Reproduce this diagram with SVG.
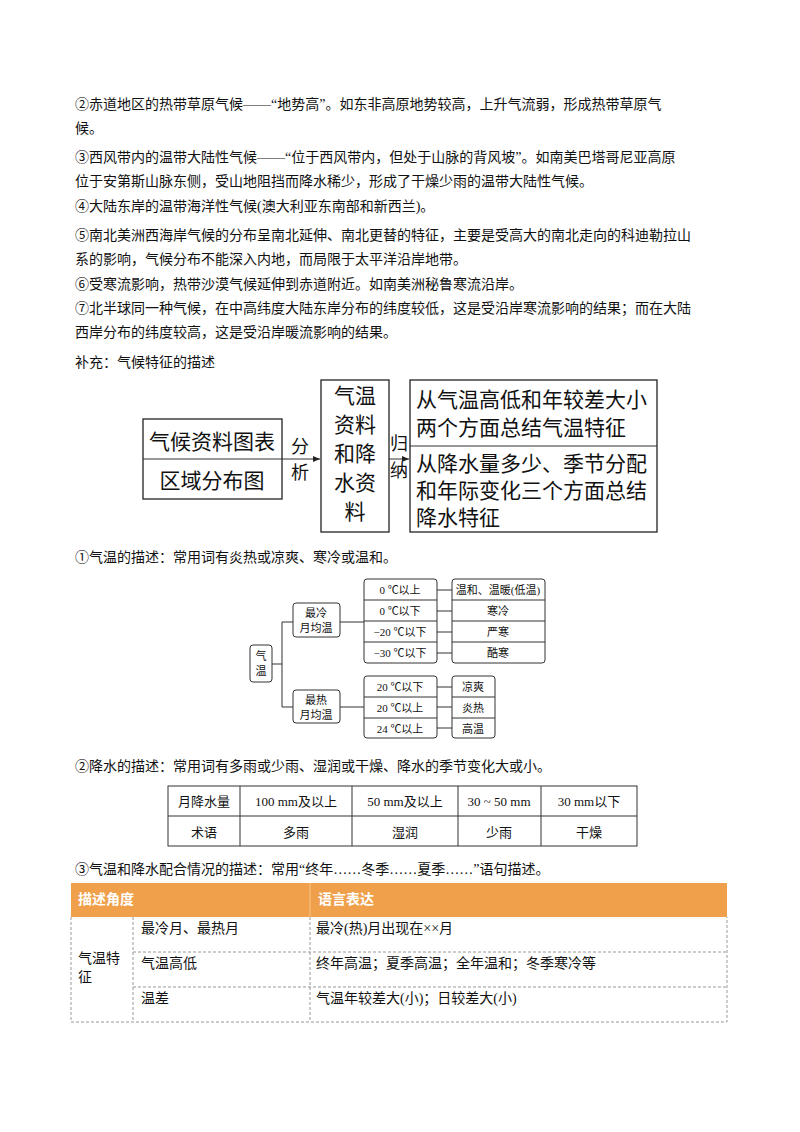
<svg xmlns="http://www.w3.org/2000/svg" width="800" height="1132" viewBox="0 0 800 1132">
<defs>
<style>
text{font-family:"Liberation Serif","Noto Sans CJK SC",serif;fill:#111}
.p{font-size:14px}
.b{font-size:21px}
.l{font-size:18px;text-anchor:middle}
.s{font-size:11px}
.t{font-size:13px;text-anchor:middle}
.bx{fill:#fff;stroke:#222;stroke-width:1.3}
.rb{fill:#fff;stroke:#333;stroke-width:1}
.ln{stroke:#333;stroke-width:1;fill:none}
.d{stroke:#999;stroke-width:1;stroke-dasharray:3 2;fill:none}
.h{font-family:"Noto Sans CJK SC",sans-serif;font-size:14px;fill:#fff;font-weight:bold}
</style>
<marker id="ar" markerWidth="8" markerHeight="8" refX="7" refY="4" orient="auto"><path d="M0,1 L7,4 L0,7z" fill="#222"/></marker>
</defs>
<rect width="800" height="1132" fill="#fff"/>
<g class="p">
<text x="75" y="109">②赤道地区的热带草原气候——“地势高”。如东非高原地势较高，上升气流弱，形成热带草原气</text>
<text x="75" y="133">候。</text>
<text x="75" y="162">③西风带内的温带大陆性气候——“位于西风带内，但处于山脉的背风坡”。如南美巴塔哥尼亚高原</text>
<text x="75" y="186">位于安第斯山脉东侧，受山地阻挡而降水稀少，形成了干燥少雨的温带大陆性气候。</text>
<text x="75" y="211">④大陆东岸的温带海洋性气候(澳大利亚东南部和新西兰)。</text>
<text x="75" y="240">⑤南北美洲西海岸气候的分布呈南北延伸、南北更替的特征，主要是受高大的南北走向的科迪勒拉山</text>
<text x="75" y="264">系的影响，气候分布不能深入内地，而局限于太平洋沿岸地带。</text>
<text x="75" y="289">⑥受寒流影响，热带沙漠气候延伸到赤道附近。如南美洲秘鲁寒流沿岸。</text>
<text x="75" y="313">⑦北半球同一种气候，在中高纬度大陆东岸分布的纬度较低，这是受沿岸寒流影响的结果；而在大陆</text>
<text x="75" y="337">西岸分布的纬度较高，这是受沿岸暖流影响的结果。</text>
<text x="75" y="367">补充：气候特征的描述</text>
<text x="75" y="562">①气温的描述：常用词有炎热或凉爽、寒冷或温和。</text>
<text x="75" y="771">②降水的描述：常用词有多雨或少雨、湿润或干燥、降水的季节变化大或小。</text>
<text x="75" y="874">③气温和降水配合情况的描述：常用“终年……冬季……夏季……”语句描述。</text>
</g>
<g id="connectors">
<line class="ln" x1="282" y1="459" x2="320" y2="459" marker-end="url(#ar)" stroke="#222"/>
<line class="ln" x1="389" y1="459" x2="409" y2="459" marker-end="url(#ar)" stroke="#222"/>
<path class="ln" d="M272,664 H282 M282,622 V707 M282,622 H293 M282,707 H293 M340,622 H364 M340,707 H364 M437,590 H452 M437,611 H452 M437,632 H452 M437,653 H452 M437,687 H452 M437,707 H452 M437,728 H452"/>
</g>
<g id="n-source">
<rect class="bx" x="143" y="419" width="139" height="80"/>
<line class="ln" x1="143" y1="459" x2="282" y2="459"/>
<text class="b" x="212" y="449" text-anchor="middle">气候资料图表</text>
<text class="b" x="212" y="488" text-anchor="middle">区域分布图</text>
</g>
<g id="lbl"><text class="l" x="300" y="453">分</text><text class="l" x="300" y="479">析</text>
<text class="l" x="399" y="450">归</text><text class="l" x="399" y="477">纳</text></g>
<g id="n-data">
<rect class="bx" x="321" y="380" width="68" height="152"/>
<g class="b" text-anchor="middle"><text x="355" y="403">气温</text><text x="355" y="432">资料</text><text x="355" y="461">和降</text><text x="355" y="490">水资</text><text x="355" y="519">料</text></g>
</g>
<g id="n-result">
<rect class="bx" x="410" y="380" width="247" height="152"/>
<line class="ln" x1="410" y1="446" x2="657" y2="446"/>
<g class="b"><text x="416" y="407">从气温高低和年较差大小</text><text x="416" y="435">两个方面总结气温特征</text>
<text x="416" y="471">从降水量多少、季节分配</text><text x="416" y="498">和年际变化三个方面总结</text><text x="416" y="525">降水特征</text></g>
</g>
<g id="n-qiwen"><rect class="rb" x="250" y="645" width="22" height="37" rx="3"/><text class="s" x="261" y="660" text-anchor="middle">气</text><text class="s" x="261" y="675" text-anchor="middle">温</text></g>
<g id="n-cold"><rect class="rb" x="293" y="603" width="47" height="34" rx="3"/><text class="s" x="316" y="617" text-anchor="middle">最冷</text><text class="s" x="316" y="632" text-anchor="middle">月均温</text></g>
<g id="n-hot"><rect class="rb" x="293" y="690" width="47" height="33" rx="3"/><text class="s" x="316" y="704" text-anchor="middle">最热</text><text class="s" x="316" y="719" text-anchor="middle">月均温</text></g>
<g id="n-coldrange"><rect class="rb" x="364" y="579" width="73" height="84" rx="3"/><path class="ln" d="M364,600H437M364,621H437M364,642H437"/>
<g class="s" text-anchor="middle"><text x="400" y="594">0 ℃以上</text><text x="400" y="615">0 ℃以下</text><text x="400" y="636">−20 ℃以下</text><text x="400" y="657">−30 ℃以下</text></g></g>
<g id="n-coldterm"><rect class="rb" x="452" y="579" width="93" height="84" rx="3"/><path class="ln" d="M452,600H545M452,621H545M452,642H545"/>
<g class="s" text-anchor="middle"><text x="498" y="594">温和、温暖(低温)</text><text x="498" y="615">寒冷</text><text x="498" y="636">严寒</text><text x="498" y="657">酷寒</text></g></g>
<g id="n-hotrange"><rect class="rb" x="364" y="676" width="73" height="62" rx="3"/><path class="ln" d="M364,697H437M364,718H437"/>
<g class="s" text-anchor="middle"><text x="400" y="691">20 ℃以下</text><text x="400" y="712">20 ℃以上</text><text x="400" y="733">24 ℃以上</text></g></g>
<g id="n-hotterm"><rect class="rb" x="452" y="676" width="43" height="62" rx="3"/><path class="ln" d="M452,697H495M452,718H495"/>
<g class="s" text-anchor="middle"><text x="473" y="691">凉爽</text><text x="473" y="712">炎热</text><text x="473" y="733">高温</text></g></g>
<g id="precip-table">
<rect class="ln" x="168" y="786" width="469" height="60" stroke-width="1.2"/>
<path class="ln" d="M168,816H637M240,786V846M352,786V846M458,786V846M541,786V846"/>
<g class="t"><text x="204" y="806">月降水量</text><text x="296" y="806">100 mm及以上</text><text x="405" y="806">50 mm及以上</text><text x="499" y="806">30 ~ 50 mm</text><text x="589" y="806">30 mm以下</text>
<text x="204" y="837">术语</text><text x="296" y="837">多雨</text><text x="405" y="837">湿润</text><text x="499" y="837">少雨</text><text x="589" y="837">干燥</text></g>
</g>
<g id="desc-table">
<rect x="71" y="883" width="656" height="34" fill="#f0a04b"/>
<line x1="310" y1="883" x2="310" y2="917" stroke="#f7c48c" stroke-width="1"/>
<text class="h" x="78" y="904">描述角度</text><text class="h" x="318" y="904">语言表达</text>
<path class="d" d="M71,917V1022H727V917M133,917V1022M310,917V1022M133,952H727M133,987H727"/>
<g class="p"><text x="78" y="963">气温特</text><text x="78" y="982">征</text>
<text x="141" y="933">最冷月、最热月</text><text x="141" y="968">气温高低</text><text x="141" y="1003">温差</text>
<text x="316" y="933">最冷(热)月出现在××月</text><text x="316" y="968">终年高温；夏季高温；全年温和；冬季寒冷等</text><text x="316" y="1003">气温年较差大(小)；日较差大(小)</text></g>
</g>
</svg>
